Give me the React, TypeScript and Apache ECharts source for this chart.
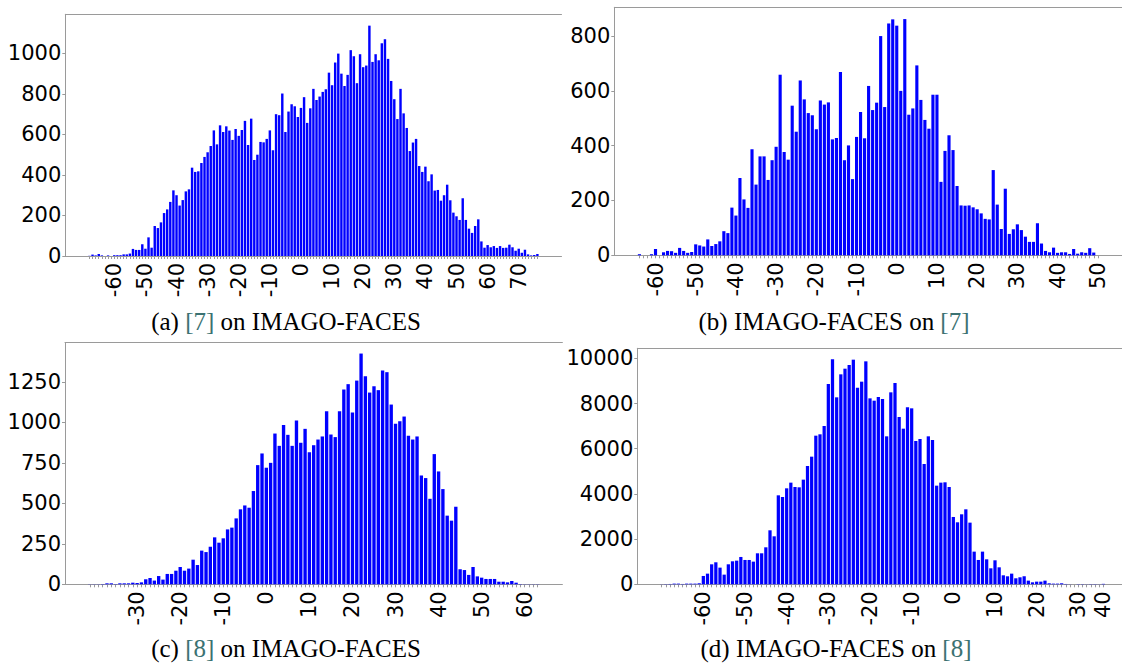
import React, { useEffect, useRef } from "react";
import * as echarts from "echarts";

const range = (a: number, b: number) => Array.from({ length: b - a + 1 }, (_, i) => a + i);

// ---------- (a) [7] on IMAGO-FACES ----------
const binsA = range(-68, 76);
const countsA = [
  1, 7, 3, 10, 3, 0, 3, 0, 4, 4,
  4, 8, 8, 12, 35, 30, 30, 58, 36, 92,
  41, 148, 138, 166, 212, 230, 267, 324, 300, 249,
  276, 319, 329, 436, 415, 418, 459, 489, 512, 543,
  620, 551, 645, 612, 640, 619, 573, 627, 593, 622,
  667, 548, 678, 474, 500, 563, 561, 578, 620, 522,
  700, 695, 802, 612, 713, 749, 739, 686,
  731, 784, 657, 729, 825, 770, 787, 810, 823, 905,
  843, 955, 999, 900, 839, 894, 1016, 986, 853, 996,
  932, 940, 1137, 958, 996, 966, 1050, 1070, 973, 864,
  774, 676, 825, 704, 632, 518, 560, 578, 444, 415,
  441, 369, 403, 323, 326, 273, 300, 352, 275, 214,
  196, 178, 285, 178, 135, 114, 148, 181, 72, 41,
  54, 43, 49, 40, 49, 40, 41, 56, 43, 26,
  36, 16, 31, 8, 3, 5, 10,
];
const ticksA = [-60, -50, -40, -30, -20, -10, 0, 10, 20, 30, 40, 50, 60, 70];

// ---------- (b) IMAGO-FACES on [7] ----------
const binsB = range(-64, 50);
const countsB = [
  4, 0, 0, 4, 23, 0, 11, 16, 15, 9,
  27, 16, 9, 12, 40, 36, 32, 58, 34, 41,
  51, 88, 81, 174, 145, 282, 204, 173, 387, 258,
  361, 361, 275, 347, 396, 659, 377, 349, 546, 451,
  638, 569, 519, 511, 460, 565, 550, 558, 423, 428,
  669, 347, 401, 278, 432, 523, 427, 618, 530, 557,
  800, 541, 846, 861,
  838, 600, 862, 513, 536, 693, 567, 494, 462, 586,
  586, 268, 381, 438, 384, 253, 182, 181, 182, 175,
  168, 153, 133, 131, 311, 185, 96, 243, 78, 95,
  113, 92, 68, 49, 49, 117, 43, 16, 11, 28,
  9, 11, 11, 5, 23, 6, 11, 9, 26, 10,
  0,
];
const ticksB = [-60, -50, -40, -30, -20, -10, 0, 10, 20, 30, 40, 50];

// ---------- (c) [8] on IMAGO-FACES ----------
const binsC = range(-41, 63);
const countsC = [
  1, 1, 1, 2, 6, 6, 2, 6, 6, 6,
  10, 8, 12, 31, 39, 23, 51, 29, 64, 64,
  84, 107, 84, 97, 152, 119, 208, 199, 232, 290,
  257, 284, 339, 350, 407, 463, 487, 473, 576, 736,
  808,
  720, 750, 931, 855, 983, 923, 855, 1012, 874, 960,
  816, 859, 894, 913, 1069, 925, 909, 1069, 1203, 1236,
  1061, 1258, 1425, 1285, 1184, 1223, 1199, 1320, 1310, 1110,
  991, 1007, 1036, 917, 894, 913, 672, 656, 528, 804,
  697, 588, 424, 393, 479, 93, 88, 58, 107, 49,
  41, 33, 33, 33, 16, 16, 12, 21, 10, 2,
  1, 1, 1, 1,
];
const ticksC = [-30, -20, -10, 0, 10, 20, 30, 40, 50, 60];

// ---------- (d) IMAGO-FACES on [8] ----------
const binsD = [...range(-70, 30), 31, 32, 33, 35, 37, 40];
const countsD = [
  5, 10, 15, 30, 30, 15, 30, 30, 30, 45,
  369, 472, 885, 974, 738, 428, 885, 1018, 1047, 1210,
  1077, 1077, 1003, 1372, 1372, 1637, 2390, 2124, 3938, 3865,
  4248, 4499, 4307, 4292, 4632, 5236, 5649, 6578, 6638, 7006,
  8865, 9956, 8275, 9293, 9543, 9706, 9942, 8703, 8968, 9868,
  8230, 8127, 8290, 8201, 6549, 8496, 8909, 7405, 6888, 7832,
  7788, 6343, 6431, 5325, 6549, 6387, 4366, 4499, 4514, 4307,
  2980, 2744, 3098, 3319, 2729, 1446, 1077, 1446, 1106, 708,
  1062, 752, 398, 354, 472, 266, 310, 354, 162, 88,
  118, 118, 162, 44, 30, 30, 44, 15, 5, 0,
  10,
  10, 5, 10, 10, 5, 20,
];
const ticksD = [-60, -50, -40, -30, -20, -10, 0, 10, 20, 30, 40];

const GRAY = "#9a9a9a";
const BLUE = "#0000ff";
const CITE = "#3b7272";
const AXIS_FONT = "DejaVu Sans";
const AXIS_SIZE = 21;
const CAP_FONT = '25px "Liberation Serif"';

type Panel = {
  bins: number[];
  counts: number[];
  ticks: number[];
  L: number; T: number; R: number; B: number;
  ymax: number; interval: number;
  cap: [string, string, string];
  capX: number; capY: number;
};

const panels: Panel[] = [
  { bins: binsA, counts: countsA, ticks: ticksA, L: 65.3, T: 14.3, R: 561.5, B: 256, ymax: 1193, interval: 200,
    cap: ["(a) ", "[7]", " on IMAGO-FACES"], capX: 286, capY: 321 },
  { bins: binsB, counts: countsB, ticks: ticksB, L: 614.3, T: 7.3, R: 1122.9, B: 255.3, ymax: 905, interval: 200,
    cap: ["(b) IMAGO-FACES on ", "[7]", ""], capX: 834, capY: 321 },
  { bins: binsC, counts: countsC, ticks: ticksC, L: 65, T: 342.7, R: 562.4, B: 584.3, ymax: 1492, interval: 250,
    cap: ["(c) ", "[8]", " on IMAGO-FACES"], capX: 286, capY: 648 },
  { bins: binsD, counts: countsD, ticks: ticksD, L: 637.3, T: 348.3, R: 1127.7, B: 584.3, ymax: 10445, interval: 2000,
    cap: ["(d) IMAGO-FACES on ", "[8]", ""], capX: 836, capY: 648 },
];

function buildOption() {
  const grid: any[] = [];
  const xAxis: any[] = [];
  const yAxis: any[] = [];
  const series: any[] = [];
  const graphic: any[] = [];

  panels.forEach((p, i) => {
    const W = p.R - p.L;
    const H = p.B - p.T;
    const pad = W / 22;
    grid.push({ left: p.L, top: p.T, width: W, height: H, containLabel: false, outerBoundsMode: "none" });
    grid.push({ left: p.L + pad, top: p.T, width: W - 2 * pad, height: H, containLabel: false, outerBoundsMode: "none" });

    const frameX = (pos: string) => ({
      type: "value", gridIndex: 2 * i, position: pos, min: 0, max: 1,
      axisLine: { show: true, onZero: false, lineStyle: { color: GRAY, width: 1 } },
      axisTick: { show: false }, axisLabel: { show: false }, splitLine: { show: false },
    });
    xAxis.push(frameX("bottom"));
    xAxis.push(frameX("top"));
    const ticks = p.ticks;
    xAxis.push({
      type: "category", gridIndex: 2 * i + 1, data: p.bins.map(String), boundaryGap: true,
      axisLine: { show: false },
      axisTick: { show: true, alignWithLabel: true, interval: 0, length: 3, lineStyle: { color: GRAY } },
      axisLabel: {
        interval: (_idx: number, val: string) => ticks.includes(Number(val)),
        rotate: 90, margin: 7, fontSize: AXIS_SIZE, fontFamily: AXIS_FONT, color: "#000",
      },
      splitLine: { show: false },
    });

    yAxis.push({
      type: "value", gridIndex: 2 * i, min: 0, max: p.ymax, interval: p.interval,
      axisLine: { show: true, lineStyle: { color: GRAY, width: 1 } },
      axisTick: { show: true, length: 3, lineStyle: { color: GRAY } },
      axisLabel: {
        margin: 4, fontSize: AXIS_SIZE, fontFamily: AXIS_FONT, color: "#000",
        showMaxLabel: false, formatter: (v: number) => String(v),
      },
      splitLine: { show: false },
    });
    yAxis.push({ type: "value", gridIndex: 2 * i + 1, min: 0, max: p.ymax, show: false });

    series.push({
      type: "bar", xAxisIndex: 3 * i + 2, yAxisIndex: 2 * i + 1,
      data: p.counts, barCategoryGap: "22%", silent: true,
      itemStyle: { color: BLUE },
    });

    const [a, c, b] = p.cap;
    graphic.push({
      type: "text", x: p.capX, y: p.capY, silent: true,
      style: {
        text: `{n|${a}}{c|${c}}{n|${b}}`,
        font: CAP_FONT, align: "center", verticalAlign: "middle", fill: "#000",
        rich: {
          n: { fill: "#000", font: CAP_FONT },
          c: { fill: CITE, font: CAP_FONT },
        },
      },
    });
  });

  return { animation: false, backgroundColor: "#fff", grid, xAxis, yAxis, series, graphic };
}

export default function App() {
  const ref = useRef<HTMLDivElement>(null);
  useEffect(() => {
    if (!ref.current) return;
    const chart = echarts.init(ref.current, null, { renderer: "svg", width: 1122, height: 666 });
    chart.setOption(buildOption() as any);
    return () => chart.dispose();
  }, []);
  return (
    <div
      ref={ref}
      style={{ position: "absolute", left: 0, top: 0, width: 1122, height: 666, background: "#fff" }}
    />
  );
}
